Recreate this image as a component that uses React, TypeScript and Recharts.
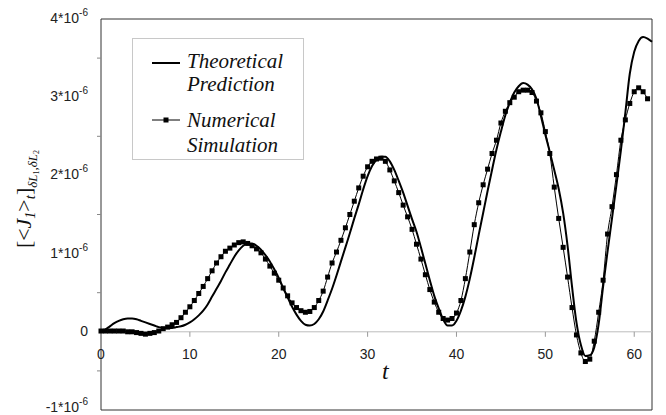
import React from 'react';
import { LineChart, Line, XAxis, YAxis, ReferenceLine, ReferenceArea, ReferenceDot, Legend } from 'recharts';

// time grid (t)
const tValues = [
  0, 0.5, 1, 1.5, 2, 2.5, 3, 3.5, 4, 4.5, 5, 5.5, 6, 6.5, 7, 7.5, 8, 8.5, 9, 9.5,
  10, 10.5, 11, 11.5, 12, 12.5, 13, 13.5, 14, 14.5, 15, 15.5, 16, 16.5, 17, 17.5, 18, 18.5, 19, 19.5,
  20, 20.5, 21, 21.5, 22, 22.5, 23, 23.5, 24, 24.5, 25, 25.5, 26, 26.5, 27, 27.5, 28, 28.5, 29, 29.5,
  30, 30.5, 31, 31.5, 32, 32.5, 33, 33.5, 34, 34.5, 35, 35.5, 36, 36.5, 37, 37.5, 38, 38.5, 39, 39.5,
  40, 40.5, 41, 41.5, 42, 42.5, 43, 43.5, 44, 44.5, 45, 45.5, 46, 46.5, 47, 47.5, 48, 48.5, 49, 49.5,
  50, 50.5, 51, 51.5, 52, 52.5, 53, 53.5, 54, 54.5, 55, 55.5, 56, 56.5, 57, 57.5, 58, 58.5, 59, 59.5,
  60, 60.5, 61, 61.5, 62,
];

// values in units of 1e-6
const theoretical = [
  0.00, 0.03, 0.07, 0.11, 0.14, 0.16, 0.17, 0.17, 0.16, 0.14, 0.12, 0.10, 0.08, 0.06, 0.05, 0.05, 0.05, 0.06, 0.07, 0.09,
  0.12, 0.16, 0.21, 0.27, 0.35, 0.45, 0.55, 0.65, 0.76, 0.86, 0.96, 1.04, 1.10, 1.13, 1.13, 1.10, 1.05, 0.98, 0.90, 0.80,
  0.69, 0.56, 0.44, 0.32, 0.22, 0.14, 0.09, 0.08, 0.10, 0.16, 0.26, 0.40, 0.55, 0.72, 0.90, 1.08, 1.26, 1.45, 1.63, 1.82,
  1.99, 2.12, 2.20, 2.24, 2.24, 2.18, 2.07, 1.93, 1.78, 1.61, 1.44, 1.28, 1.08, 0.87, 0.66, 0.46, 0.30, 0.16, 0.08, 0.08,
  0.14, 0.27, 0.45, 0.68, 0.95, 1.24, 1.52, 1.80, 2.07, 2.33, 2.56, 2.77, 2.93, 3.06, 3.14, 3.18, 3.16, 3.10, 2.98, 2.76,
  2.52, 2.30, 2.07, 1.83, 1.52, 1.10, 0.58, 0.12, -0.17, -0.31, -0.30, -0.20, 0.10, 0.58, 1.03, 1.45, 1.88, 2.32, 2.80, 3.30,
  3.58, 3.72, 3.77, 3.75, 3.71,
];

const numerical = [
  0.01, 0.01, 0.01, 0.01, 0.01, 0.01, 0.00, 0.00, -0.01, -0.02, -0.03, -0.02, -0.01, 0.01, 0.04, 0.06, 0.09, 0.12, 0.18, 0.25,
  0.32, 0.40, 0.49, 0.58, 0.68, 0.78, 0.88, 0.96, 1.03, 1.07, 1.11, 1.14, 1.15, 1.13, 1.10, 1.06, 1.01, 0.93, 0.84, 0.75,
  0.66, 0.56, 0.46, 0.37, 0.31, 0.27, 0.25, 0.26, 0.31, 0.40, 0.52, 0.70, 0.88, 1.02, 1.17, 1.33, 1.50, 1.67, 1.84, 1.99,
  2.11, 2.18, 2.21, 2.22, 2.18, 2.07, 1.93, 1.78, 1.62, 1.47, 1.31, 1.12, 0.93, 0.73, 0.54, 0.38, 0.25, 0.17, 0.15, 0.17,
  0.24, 0.40, 0.68, 1.02, 1.37, 1.65, 1.88, 2.08, 2.28, 2.45, 2.67, 2.82, 2.93, 3.00, 3.07, 3.09, 3.09, 3.06, 2.95, 2.80,
  2.56, 2.28, 1.85, 1.45, 1.08, 0.70, 0.31, -0.04, -0.27, -0.38, -0.35, -0.12, 0.25, 0.66, 1.25, 1.60, 2.01, 2.45, 2.71, 2.92,
  3.07, 3.12, 3.07, 2.98, null,
];

const xTickValues = [0, 10, 20, 30, 40, 50, 60];
const yTickValues = [-1, -0.5, 0, 0.5, 1, 1.5, 2, 2.5, 3, 3.5, 4];
const seriesNames = ['Theoretical Prediction', 'Numerical Simulation'];

const data = tValues.map((t, i) => ({ t, theo: theoretical[i], num: numerical[i] }));

const SANS = "'Liberation Sans', Arial, sans-serif";
const SERIF = "'Liberation Serif', 'Times New Roman', serif";

const sansStyle = { fontFamily: SANS, fontSize: 14, fill: '#222' };
const serifItalic = (size: number) => ({ fontFamily: SERIF, fontStyle: 'italic' as const, fontSize: size, fill: '#111' });

const YTick = (props: any) => {
  const { x, y, payload } = props;
  const v = payload.value as number;
  const major = Number.isInteger(v);
  if (!major) {
    return <line x1={x - 4} x2={x} y1={y} y2={y} stroke="#888" strokeWidth={1} />;
  }
  return (
    <text x={x - 13} y={v === -1 ? y + 2 : y + 4} textAnchor="end" style={sansStyle}>
      {v === 0 ? (
        '0'
      ) : (
        <>
          <tspan>{`${v}*10`}</tspan>
          <tspan dy={-7} style={{ fontSize: 10 }}>-6</tspan>
        </>
      )}
    </text>
  );
};

const YLabel = () => (
  <text
    x={31}
    y={199}
    transform="rotate(-90 31 199)"
    textAnchor="middle"
    style={{ fontFamily: SERIF, fontSize: 22, fill: '#111' }}
  >
    <tspan>[&lt;</tspan>
    <tspan style={{ fontStyle: 'italic' }}>J</tspan>
    <tspan style={{ fontStyle: 'italic', fontSize: 14 }} dy={4}>1</tspan>
    <tspan dy={-4}>&gt;</tspan>
    <tspan style={{ fontStyle: 'italic', fontSize: 15 }} dy={4}>t</tspan>
    <tspan dy={-4}>]</tspan>
    <tspan style={{ fontStyle: 'italic', fontSize: 13 }} dy={6}>δL</tspan>
    <tspan style={{ fontSize: 8 }} dy={2}>1</tspan>
    <tspan style={{ fontStyle: 'italic', fontSize: 13 }} dy={-2}>,δL</tspan>
    <tspan style={{ fontSize: 8 }} dy={2}>2</tspan>
  </text>
);

const SquareDot = (p: any) => {
  if (p.cx == null || p.cy == null || p.value == null) return <g key={p.index} />;
  return <rect key={p.index} x={p.cx - 2.5} y={p.cy - 2.5} width={5} height={5} fill="#000" />;
};

const LegendBox = () => {
  const [a1, a2] = seriesNames[0].split(' ');
  const [b1, b2] = seriesNames[1].split(' ');
  const ts = serifItalic(21);
  return (
    <svg width={172} height={122} style={{ display: 'block' }}>
      <rect x={0.5} y={0.5} width={171} height={121} fill="#fff" stroke="#c8c8c8" />
      <line x1={20} x2={48} y1={25} y2={25} stroke="#000" strokeWidth={2} />
      <text x={55} y={30} style={ts}>{a1}</text>
      <text x={55} y={53} style={ts}>{a2}</text>
      <line x1={20} x2={48} y1={82} y2={82} stroke="#000" strokeWidth={1} />
      <rect x={31.5} y={79.5} width={5} height={5} fill="#000" />
      <text x={55} y={89} style={ts}>{b1}</text>
      <text x={55} y={114} style={ts}>{b2}</text>
    </svg>
  );
};

export default function App() {
  return (
    <div style={{ position: 'absolute', left: 0, top: 0, background: '#fff' }}>
      <LineChart width={666} height={415} data={data} margin={{ top: 19, right: 14, bottom: 5, left: 0 }}>
        <XAxis dataKey="t" type="number" domain={[0, 62]} hide />
        <YAxis
          type="number"
          domain={[-1, 4]}
          ticks={yTickValues}
          width={101}
          axisLine={false}
          tickLine={false}
          tickSize={0}
          tickMargin={0}
          tick={<YTick />}
          interval={0}
          allowDataOverflow
          label={<YLabel />}
        />
        <ReferenceLine y={0} stroke="#bdbdbd" strokeWidth={1} />
        <ReferenceArea x1={0} x2={62} y1={-1} y2={4} fill="none" stroke="#333" strokeWidth={1} />
        {xTickValues.map((v) => (
          <ReferenceDot
            key={v}
            x={v}
            y={0}
            r={0}
            shape={(p: any) => (
              <g>
                <line x1={p.cx} x2={p.cx} y1={p.cy} y2={p.cy + 5} stroke="#999" />
                <text x={p.cx} y={p.cy + 27} textAnchor="middle" style={sansStyle}>
                  {v}
                </text>
              </g>
            )}
          />
        ))}
        <ReferenceDot
          x={32}
          y={0}
          r={0}
          shape={(p: any) => (
            <text x={p.cx} y={p.cy + 47} textAnchor="middle" style={serifItalic(24)}>
              t
            </text>
          )}
        />
        <Line
          type="monotone"
          dataKey="theo"
          name={seriesNames[0]}
          stroke="#000"
          strokeWidth={2}
          dot={false}
          activeDot={false}
          isAnimationActive={false}
        />
        <Line
          type="monotone"
          dataKey="num"
          name={seriesNames[1]}
          stroke="#000"
          strokeWidth={1}
          dot={SquareDot}
          activeDot={false}
          isAnimationActive={false}
        />
        <Legend
          layout="vertical"
          align="center"
          verticalAlign="middle"
          content={<LegendBox />}
          wrapperStyle={{ left: 132, top: 38, width: 172, height: 122 }}
        />
      </LineChart>
    </div>
  );
}
